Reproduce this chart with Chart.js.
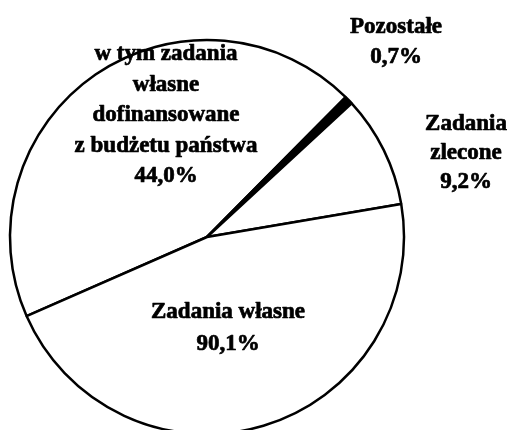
<!DOCTYPE html>
<html>
<head>
<meta charset="utf-8">
<script src="https://cdn.jsdelivr.net/npm/chart.js@4/dist/chart.umd.min.js"></script>
<style>
  html, body { margin: 0; padding: 0; background: #ffffff; overflow: hidden; }
  #wrap { position: relative; width: 510px; height: 430px; }
</style>
</head>
<body>
<div id="wrap"><canvas id="c" width="510" height="430"></canvas></div>
<script>
// Data (shares of expenditure, %)
const categories = ["w tym zadania własne dofinansowane z budżetu państwa", "Pozostałe", "Zadania zlecone", "Zadania własne (pozostałe)"];
const zadaniaWlasne = 90.1;
const dofinansowane = 44.0;
const pozostale = 0.7;
const zlecone = 9.2;
const values = [dofinansowane, pozostale, zlecone, +(zadaniaWlasne - dofinansowane).toFixed(1)];
const fills = ["#ffffff", "#000000", "#ffffff", "#ffffff"];

// Label texts
const labelTexts = [
  ["w tym zadania", "własne", "dofinansowane", "z budżetu państwa", dofinansowane.toFixed(1).replace('.', ',') + "%"],
  ["Pozostałe", pozostale.toFixed(1).replace('.', ',') + "%"],
  ["Zadania", "zlecone", zlecone.toFixed(1).replace('.', ',') + "%"],
  ["Zadania własne", zadaniaWlasne.toFixed(1).replace('.', ',') + "%"]
];
// Label layout (x centre, first baseline, line step)
const labelLayout = [
  { x: 166, y: 60, step: 30.5 },
  { x: 396, y: 33, step: 30 },
  { x: 466, y: 130, step: 29 },
  { x: 228, y: 318, step: 32 }
];

const total = values.reduce((a, b) => a + b, 0);
// rotate so that the thin "Pozostałe" wedge points up-right, as in the reference
const rotation = 46 - (values[0] + values[1] / 2) / total * 360;

const textPlugin = {
  id: 'texts',
  afterDraw(chart) {
    const ctx = chart.ctx;
    ctx.save();
    ctx.fillStyle = '#000';
    ctx.strokeStyle = '#000';
    ctx.lineWidth = 0.7;
    ctx.lineJoin = 'round';
    ctx.font = 'bold 23px "Liberation Serif", "Times New Roman", serif';
    ctx.textAlign = 'center';
    ctx.textBaseline = 'alphabetic';
    labelTexts.forEach((lines, i) => {
      const L = labelLayout[i];
      lines.forEach((t, j) => {
        ctx.fillText(t, L.x, L.y + j * L.step);
        ctx.strokeText(t, L.x, L.y + j * L.step);
      });
    });
    ctx.restore();
  }
};

new Chart(document.getElementById('c'), {
  type: 'pie',
  data: {
    labels: categories,
    datasets: [{
      data: values,
      backgroundColor: fills,
      borderColor: '#000000',
      borderWidth: 2.5,
      clip: false
    }]
  },
  options: {
    responsive: false,
    devicePixelRatio: 1,
    animation: false,
    rotation: rotation,
    radius: 197,
    layout: { padding: { left: 10, right: 106, top: 44, bottom: 0 } },
    plugins: {
      legend: { display: false },
      tooltip: { enabled: false },
      title: { display: false }
    }
  },
  plugins: [textPlugin]
});
</script>
</body>
</html>
